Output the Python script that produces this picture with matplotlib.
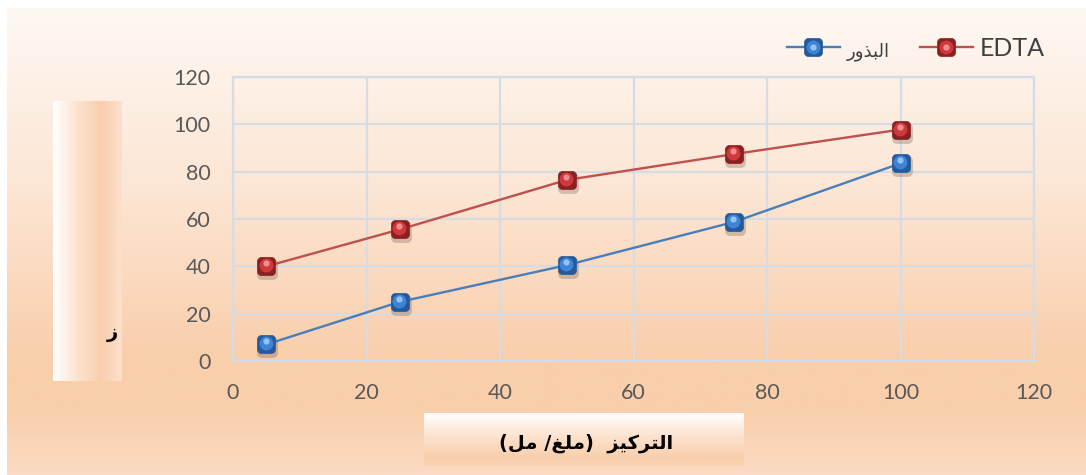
import numpy as np
import matplotlib
matplotlib.use("Agg")
import matplotlib.pyplot as plt
from matplotlib import transforms
from matplotlib.path import Path
from matplotlib.colors import LinearSegmentedColormap, to_rgb
from matplotlib.legend_handler import HandlerTuple

# ---------------- data ----------------
concentration = [5, 25, 50, 75, 100]
seeds_values = [7, 25, 40.5, 58.7, 83.5]      # البذور
edta_values = [40, 55.6, 76.5, 87.4, 97.8]    # EDTA
x_ticks = [0, 20, 40, 60, 80, 100, 120]
y_ticks = [0, 20, 40, 60, 80, 100, 120]
seeds_label = "\uFEAD\uFEED\uFEAC\uFE92\uFEDF\uFE8D"   # البذور (shaped, visual order)
edta_label = "EDTA"
# التركيز (ملغ/ مل) shaped, visual order
xlabel_text = "(\uFEDE\uFEE3 /\uFECE\uFEE0\uFEE3)  \uFEB0\uFEF4\uFEDB\uFEAE\uFE98\uFEDF\uFE8D"
ylabel_fragment = "\u0632"

W, H = 1086, 475
fig = plt.figure(figsize=(W / 100, H / 100), dpi=100)
fig.patch.set_facecolor("white")

def grad_img(stops, n=256):
    cmap = LinearSegmentedColormap.from_list("g", [(p, to_rgb(c)) for p, c in stops])
    return cmap(np.linspace(0, 1, n))

# rounded square marker path
def rounded_square(r=0.45):
    k = 0.5523 * r
    verts = [(-1 + r, -1), (1 - r, -1),
             (1 - r + k, -1), (1, -1 + r - k), (1, -1 + r),
             (1, 1 - r),
             (1, 1 - r + k), (1 - r + k, 1), (1 - r, 1),
             (-1 + r, 1),
             (-1 + r - k, 1), (-1, 1 - r + k), (-1, 1 - r),
             (-1, -1 + r),
             (-1, -1 + r - k), (-1 + r - k, -1), (-1 + r, -1),
             (-1 + r, -1)]
    codes = [Path.MOVETO, Path.LINETO,
             Path.CURVE4, Path.CURVE4, Path.CURVE4,
             Path.LINETO,
             Path.CURVE4, Path.CURVE4, Path.CURVE4,
             Path.LINETO,
             Path.CURVE4, Path.CURVE4, Path.CURVE4,
             Path.LINETO,
             Path.CURVE4, Path.CURVE4, Path.CURVE4,
             Path.CLOSEPOLY]
    return Path(verts, codes)

RSQ = rounded_square()

# background gradient (vertical)
bg = fig.add_axes([7 / W, 0, 1 - 7 / W, (H - 8) / H], zorder=0)
img = grad_img([(0, "#FEF8F3"), (0.40, "#FCE5D3"), (0.75, "#F9CEAB"),
                (0.86, "#F9CEAB"), (1.0, "#FBDBC3")])
bg.imshow(img[:, None, :], aspect="auto", extent=[0, 1, 1, 0])
bg.set_axis_off()

# y-label box (horizontal gradient)
yb = fig.add_axes([53 / W, (H - 381) / H, 68 / W, 280 / H], zorder=1)
img = grad_img([(0, "#FFFFFF"), (0.35, "#FCE3D0"), (0.7, "#F9CEAB"), (1.0, "#FCE0CC")])
yb.imshow(img[None, :, :], aspect="auto", extent=[0, 1, 0, 1])
yb.set_axis_off()
yb.text(0.88, 0.175, ylabel_fragment, transform=yb.transAxes, ha="center", va="center",
        fontsize=14, fontweight="bold", family=["DejaVu Sans"], color="black")

# x-label box (vertical gradient)
xb = fig.add_axes([424 / W, (H - 466) / H, 320 / W, 53 / H], zorder=1)
img = grad_img([(0, "#FFFFFF"), (0.45, "#FCE2CD"), (0.85, "#F9CEAB"), (1.0, "#FAD3B4")])
xb.imshow(img[:, None, :], aspect="auto", extent=[0, 1, 0, 1])
xb.set_axis_off()
xb.text(0.505, 0.42, xlabel_text, transform=xb.transAxes, ha="center", va="center",
        fontsize=14, fontweight="bold", family=["DejaVu Sans"], color="black")

# main axes
ax = fig.add_axes([233 / W, (H - 361) / H, (1034 - 233) / W, (361 - 77) / H], zorder=2)
ax.set_facecolor("none")
ax.set_xlim(0, 120)
ax.set_ylim(0, 120)
ax.set_xticks(x_ticks)
ax.set_yticks(y_ticks)
grid_c = "#D6DCE3"
ax.grid(True, color=grid_c, linewidth=1.6)
ax.set_axisbelow(True)
for s in ax.spines.values():
    s.set_color(grid_c)
    s.set_linewidth(1.6)
ax.tick_params(length=0, labelsize=15.5, labelcolor="#595959")
ax.tick_params(axis="x", pad=16)
ax.tick_params(axis="y", pad=16)
for lab in ax.get_xticklabels() + ax.get_yticklabels():
    lab.set_family("Lato")

shadow_tr = transforms.offset_copy(ax.transData, fig=fig, x=1.0, y=-3.0, units="dots")
mid_tr = transforms.offset_copy(ax.transData, fig=fig, x=-0.5, y=1.0, units="dots")
hl_tr = transforms.offset_copy(ax.transData, fig=fig, x=-0.5, y=3.0, units="dots")

MS = 13

def series(vals, line_c, dark, mid, hl, label):
    ax.plot(concentration, vals, linestyle="none", marker=RSQ, markersize=MS + 2,
            color="#3A2A20", alpha=0.22, markeredgewidth=0, transform=shadow_tr, zorder=3)
    ln, = ax.plot(concentration, vals, color=line_c, linewidth=1.7, marker=RSQ,
                  markersize=MS, markerfacecolor=dark, markeredgecolor=dark,
                  markeredgewidth=0.5, zorder=4, label=label)
    m, = ax.plot(concentration, vals, linestyle="none", marker="o", markersize=MS - 3,
                 markerfacecolor=mid, markeredgewidth=0, transform=mid_tr, zorder=5)
    h, = ax.plot(concentration, vals, linestyle="none", marker="o", markersize=4.5,
                 markerfacecolor=hl, markeredgewidth=0, alpha=0.8, transform=hl_tr, zorder=6)
    return ln, m, h

b = series(seeds_values, "#4A7EBB", "#25599B", "#3D84D6", "#A9D2F7", seeds_label)
r = series(edta_values, "#C0504D", "#8A2022", "#D0393C", "#F5A3A3", edta_label)

def proxies(mid, hl):
    m = plt.Line2D([], [], linestyle="none", marker="o", markersize=MS - 3,
                   markerfacecolor=mid, markeredgewidth=0)
    h = plt.Line2D([], [], linestyle="none", marker="o", markersize=4.5,
                   markerfacecolor=hl, markeredgewidth=0, alpha=0.8)
    return m, h

leg = fig.legend([(b[0],) + proxies("#3D84D6", "#A9D2F7"),
                  (r[0],) + proxies("#D0393C", "#F5A3A3")],
                 [seeds_label, edta_label],
                 handler_map={tuple: HandlerTuple(ndivide=1)},
                 loc="center right", bbox_to_anchor=(1045 / W, (H - 49) / H),
                 ncol=2, frameon=False, fontsize=18, handlelength=2.1,
                 handletextpad=0.3, columnspacing=1.2, borderpad=0, borderaxespad=0)
texts = leg.get_texts()
texts[0].set_family(["DejaVu Sans"])
texts[0].set_fontsize(13)
texts[0].set_color("#404040")
texts[1].set_family("Lato")
texts[1].set_color("#404040")

fig.savefig("out.png", dpi=100)
